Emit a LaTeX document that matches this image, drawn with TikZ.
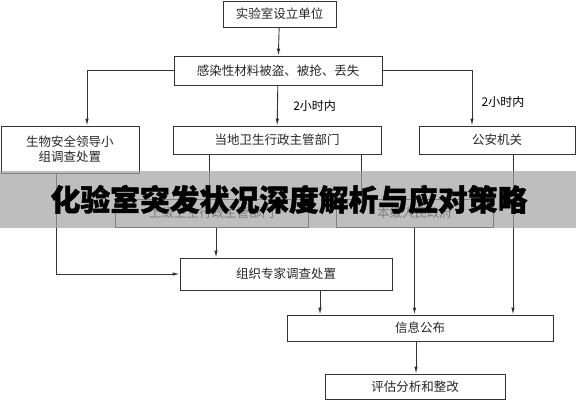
\documentclass[tikz,border=0pt]{standalone}
\usepackage{fontspec}
\setmainfont{Noto Sans CJK SC}
\newfontfamily\titlefont[BoldFeatures={FakeBold=1.5}]{Noto Sans CJK SC}
\usepackage{tikz}
\usetikzlibrary{arrows.meta}

\begin{document}
\begin{tikzpicture}[x=1pt,y=-1pt,
    box/.style={shape=rectangle,draw=black!80,line width=0.9pt,inner sep=0pt,
        font=\fontsize{12.5}{15}\selectfont,text=black!85},
    flow/.style={draw=black!80,line width=0.9pt,-{Latex[length=7pt,width=3.5pt]}}]
    \useasboundingbox (0,0) rectangle (576,400);
    \fill[white] (0,0) rectangle (576,400);
	\node (unit) at (279.5,14) [box,minimum width=113pt,minimum height=26pt] {实验室设立单位};
	\node (event) at (278,70.5) [box,minimum width=208pt,minimum height=29pt] {感染性材料被盗、被抢、丢失};
	\node (bio) at (70,149.5) [box,minimum width=138pt,minimum height=47pt,align=center] {生物安全领导小\\组调查处置};
	\node (health) at (277,140) [box,minimum width=208pt,minimum height=28pt] {当地卫生行政主管部门};
	\node (police) at (497,140) [box,minimum width=156pt,minimum height=28pt] {公安机关};
	\node (upper) at (211.5,213) [box,minimum width=193pt,minimum height=28pt] {上级卫生行政主管部门};
	\node (gov) at (414.5,213) [box,minimum width=157pt,minimum height=28pt] {本级人民政府};
	\node (expert) at (286,274) [box,minimum width=212pt,minimum height=32pt] {组织专家调查处置};
	\node (info) at (420,328) [box,minimum width=266pt,minimum height=26pt] {信息公布};
	\node (eval) at (415,386.5) [box,minimum width=180pt,minimum height=25pt] {评估分析和整改};
	\draw[flow] (unit) -- (event);
	\draw[flow] (event.west) -| ([xshift=17pt]bio.north);
	\draw[flow] (event) -- (health) node[midway,right=12pt,font=\fontsize{12}{14}\selectfont] {2小时内};
	\draw[flow] (event.east) -| ([xshift=-25pt]police.north);
	\node at (503,102) [font=\fontsize{12}{14}\selectfont] {2小时内};
	\draw[flow] ([xshift=-68pt]health.south) -- ([xshift=-68pt]health.south |- upper.north);
	\draw[flow] ([xshift=84pt]health.south) -- ([xshift=84pt]health.south |- gov.north);
	\draw[flow] ([xshift=-14pt]bio.south) |- (expert.west);
	\draw[flow] ([xshift=4.5pt]upper.south) -- ([xshift=4.5pt]upper.south |- expert.north);
	\draw[flow] ([xshift=34pt]expert.south) -- ([xshift=34pt]expert.south |- info.north);
	\draw[flow] (gov.south) -- (gov.south |- info.north);
	\draw[flow] ([xshift=16pt]police.south) -- ([xshift=16pt]police.south |- info.north);
	\draw[flow] ([xshift=-4pt]info.south) -- ([xshift=-4pt]info.south |- eval.north);
	% banner over the middle
	\fill[black!36,opacity=0.7] (0,171) rectangle (576,228);
	\node (title) at (289,199.5) [font=\fontsize{29.8}{32}\selectfont\titlefont\bfseries] {化验室突发状况深度解析与应对策略};
\end{tikzpicture}
\end{document}
